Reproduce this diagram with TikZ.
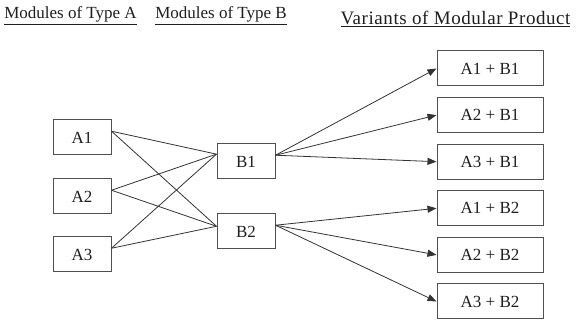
\documentclass[tikz,border=0pt]{standalone}
\usepackage{fontspec}
\setmainfont{Liberation Serif}
\usetikzlibrary{arrows.meta}
\definecolor{ink}{HTML}{1E1E1E}
\definecolor{boxline}{HTML}{505050}
\definecolor{wire}{HTML}{333333}
\tikzset{
  modbox/.style={draw=boxline,line width=1pt,
                 minimum width=58pt,minimum height=35pt,inner sep=0pt,
                 font=\fontsize{17}{20}\selectfont,text=ink},
  varbox/.style={modbox,minimum width=106pt},
  heading/.style={anchor=base,inner sep=0pt,text=ink,
                  font=\fontsize{17}{20}\selectfont},
  link/.style={draw=wire,line width=0.8pt},
  varlink/.style={link,-{Triangle[length=9pt,width=7pt]}}
}

\begin{document}
\begin{tikzpicture}[x=1pt,y=-1pt]
  \useasboundingbox (0,0) rectangle (579,320);
  % column headings
  \node[heading] (hA) at (70.5,19) {\underline{Modules of Type A}};
  \node[heading] (hB) at (221,19) {\underline{Modules of Type B}};
  \node[heading,font=\fontsize{19}{22}\selectfont\addfontfeature{LetterSpace=3}]
    (hV) at (455.5,25) {\underline{Variants of Modular Product}};
  % modules
  \node[modbox] (A1) at (82,137.5) {A1};
  \node[modbox] (A2) at (82,196.5) {A2};
  \node[modbox] (A3) at (82,254.5) {A3};
  \node[modbox] (B1) at (246,161.5) {B1};
  \node[modbox] (B2) at (246,231.5) {B2};
  % product variants
  \foreach \b in {1,2}
    \foreach \a in {1,2,3}
      \node[varbox] (V\a\b) at (490,{68.5+(3*(\b-1)+\a-1)*46.6}) {A\a\ + B\b};
  % A -> B
  \foreach \a in {1,2,3} {
    \draw[link] (A\a.12) -- (B1.166);
    \draw[link] (A\a.12) -- (B2.170);
  }
  % B -> variants
  \foreach \b in {1,2}
    \foreach \a in {1,2,3}
      \draw[varlink] (B\b.12) -- (V\a\b.west);
\end{tikzpicture}
\end{document}
